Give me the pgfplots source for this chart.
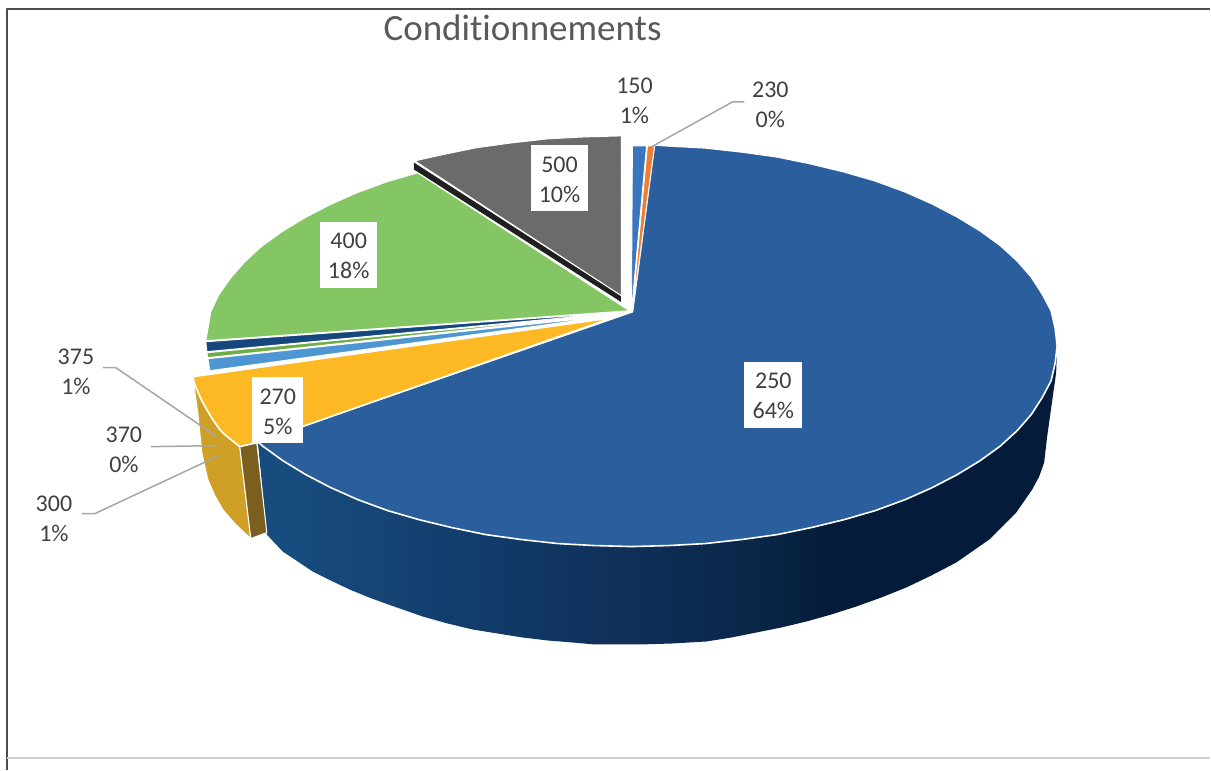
\documentclass[border=0pt]{standalone}
\usepackage{fontspec}
\setmainfont{Carlito}[Ligatures=NoCommon]
\usepackage{pgfplots}
\pgfplotsset{compat=1.18}
\definecolor{blueTop}{HTML}{2B5E9C}
\definecolor{smallBlue}{HTML}{3A75BD}
\definecolor{orangeTop}{HTML}{ED7D31}
\definecolor{yellowTop}{HTML}{FDB924}
\definecolor{yellowSide}{HTML}{CFA025}
\definecolor{brownSide}{HTML}{7A5F1E}
\definecolor{lightBlue}{HTML}{4E96D2}
\definecolor{smallGreen}{HTML}{70AD47}
\definecolor{navy}{HTML}{15477D}
\definecolor{greenTop}{HTML}{84C663}
\definecolor{greyTop}{HTML}{6B6B6B}
\definecolor{greySide}{HTML}{1F1F1F}
\definecolor{leader}{HTML}{A6A6A6}
\definecolor{labelText}{HTML}{404040}
\definecolor{titleText}{HTML}{595959}
\definecolor{sideA}{HTML}{184C7E}
\definecolor{sideB}{HTML}{123E6E}
\definecolor{sideC}{HTML}{0F2D55}
\definecolor{sideD}{HTML}{0A2748}
\definecolor{sideE}{HTML}{041C3A}
\pgfdeclarehorizontalshading{blueside}{100bp}{
  color(0bp)=(sideA); color(27bp)=(sideA); color(37bp)=(sideB);
  color(50bp)=(sideC); color(55.75bp)=(sideD); color(60.75bp)=(sideE); color(100bp)=(sideE)}
\newcommand{\lab}[4]{%
  \node[labelText, inner sep=0pt] at (axis cs:#1,#2-14) {\fontsize{24}{28}\selectfont #3};
  \node[labelText, inner sep=0pt] at (axis cs:#1,#2+16) {\fontsize{24}{28}\selectfont #4};}
\begin{document}
\begin{tikzpicture}[line join=round]
\begin{axis}[width=1211pt, height=771pt, scale only axis, hide axis,
  xmin=0, xmax=1211, ymin=0, ymax=771, y dir=reverse, clip=false]
% keep the full page
\path (axis cs:0,0) rectangle (axis cs:1211,771);
% frame of the chart
\addplot[draw=black!70, line width=1.2pt] coordinates {(7,771) (7,9) (1211,9)};
\addplot[draw=black!18, line width=2pt] coordinates {(7,759) (1211,759)};
% sides
\addplot[draw=none, shading=blueside, shading angle=0] coordinates {
(258,442) (263,446.5) (283,461) (306,475) (331,488) (358,500) (388,511) (419,520) (452,528)
(486,535) (522,540) (558,544) (595,546) (632,547) (669,546) (706,544) (742,540) (778,535)
(812,528) (845,520) (876,511) (906,500) (933,488) (958,475) (981,461) (1001,446.5) (1018,431)
(1032,415) (1043,398) (1052,381) (1056,363.5) (1058,346) (1057,373) (1048,437) (1045,463)
(1040,477) (1033,490) (1017,513) (990,540) (957,563) (932,576) (907,588) (882,598) (857,607)
(832,615) (807,622) (782,628) (757,633) (732,638) (707,642) (673,644) (640,645) (617,645)
(595,645) (573,643) (548,641) (523,638) (498,634) (473,630) (448,624) (423,617) (403,610)
(383,603) (367,597) (350,590) (331,581) (313,572) (298,562) (283,552) (267,535)} -- cycle;
\addplot[fill=yellowSide, draw=white, line width=1pt] coordinates {
(193,378) (195,385) (198,392) (202,401) (207,410) (213,420) (220,430) (225,435) (230,439) (240,447) (251,539)
(236,525) (223,510) (215,496) (208,480) (205,467) (202,453) (198,413)} -- cycle;
\addplot[fill=brownSide, draw=white, line width=1pt] coordinates {
(240,447) (257,443) (267,533) (251,539)} -- cycle;
\addplot[fill=greySide, draw=white, line width=0.6pt] coordinates {
(414,162) (414,170) (622,303) (622,296)} -- cycle;
% top faces
\addplot[fill=blueTop, draw=white, line width=1.6pt] coordinates {
(633,312) (655,145) (669,146) (706,148) (742,152) (778,157) (812,164) (845,172) (876,181)
(906,192) (933,204) (958,217) (981,231) (1001,245.5) (1018,261) (1032,277) (1043,294)
(1052,311) (1056,328.5) (1058,346) (1056,363.5) (1052,381) (1043,398) (1032,415) (1018,431)
(1001,446.5) (981,461) (958,475) (933,488) (906,500) (876,511) (845,520) (812,528) (778,535)
(742,540) (706,544) (669,546) (632,547) (595,546) (558,544) (522,540) (486,535) (452,528)
(419,520) (388,511) (358,500) (331,488) (306,475) (283,461) (263,446.5) (258,442)} -- cycle;
\addplot[fill=smallBlue, draw=white, line width=0.8pt] coordinates {
(632,311) (633,146) (647,146)} -- cycle;
\addplot[fill=orangeTop, draw=white, line width=0.8pt] coordinates {
(633,311) (648,146) (655,146)} -- cycle;
\addplot[fill=yellowTop, draw=white, line width=1.6pt] coordinates {
(613,318) (193,377) (195,385) (198,392) (202,401) (207,410) (213,420) (220,430) (225,435)
(230,439) (240,447) (257,443)} -- cycle;
\addplot[fill=lightBlue, draw=white, line width=1pt] coordinates {
(620,315) (208,359) (209,365) (210,371)} -- cycle;
\addplot[fill=smallGreen, draw=white, line width=1pt] coordinates {
(625,313) (207,353) (208,358)} -- cycle;
\addplot[fill=navy, draw=white, line width=1pt] coordinates {
(628,312) (206,342) (207,352)} -- cycle;
\addplot[fill=greenTop, draw=white, line width=1pt] coordinates {
(630,311) (206,341) (211,312) (219,295) (231,278) (245,262) (262,246.5) (282,232) (305,218)
(330,205) (357,193) (387,182) (418,173)} -- cycle;
\addplot[fill=greyTop, draw=white, line width=1pt] coordinates {
(622,296) (415,161) (442,155) (476,148) (512,143) (548,139) (585,137) (622,136)} -- cycle;
% label boxes
\addplot[fill=white, draw=none] coordinates {(745,362) (803,362) (803,428) (745,428)} -- cycle;
\addplot[fill=white, draw=none] coordinates {(320,222) (377,222) (377,288) (320,288)} -- cycle;
\addplot[fill=white, draw=none] coordinates {(531,145) (588,145) (588,211) (531,211)} -- cycle;
\addplot[fill=white, draw=none] coordinates {(252,377) (303,377) (303,443) (252,443)} -- cycle;
% leader lines
\addplot[draw=leader, line width=1.5pt] coordinates {(745,102) (733,102) (652,147)};
\addplot[draw=leader, line width=1.5pt] coordinates {(103,368) (116,368) (217,437)};
\addplot[draw=leader, line width=1.5pt] coordinates {(151,447) (217,446)};
\addplot[draw=leader, line width=1.5pt] coordinates {(82,514) (95,514) (219,456)};
% texts
\node[titleText, inner sep=0pt] at (axis cs:523,28) {\fontsize{37}{42}\selectfont Conditionnements};
\lab{774}{395}{250}{64\%}
\lab{349}{255}{400}{18\%}
\lab{560}{179}{500}{10\%}
\lab{278}{411}{270}{5\%}
\lab{635}{100}{150}{1\%}
\lab{771}{104}{230}{0\%}
\lab{76}{371}{375}{1\%}
\lab{124}{449}{370}{0\%}
\lab{54}{518}{300}{1\%}
\end{axis}
\end{tikzpicture}
\end{document}
